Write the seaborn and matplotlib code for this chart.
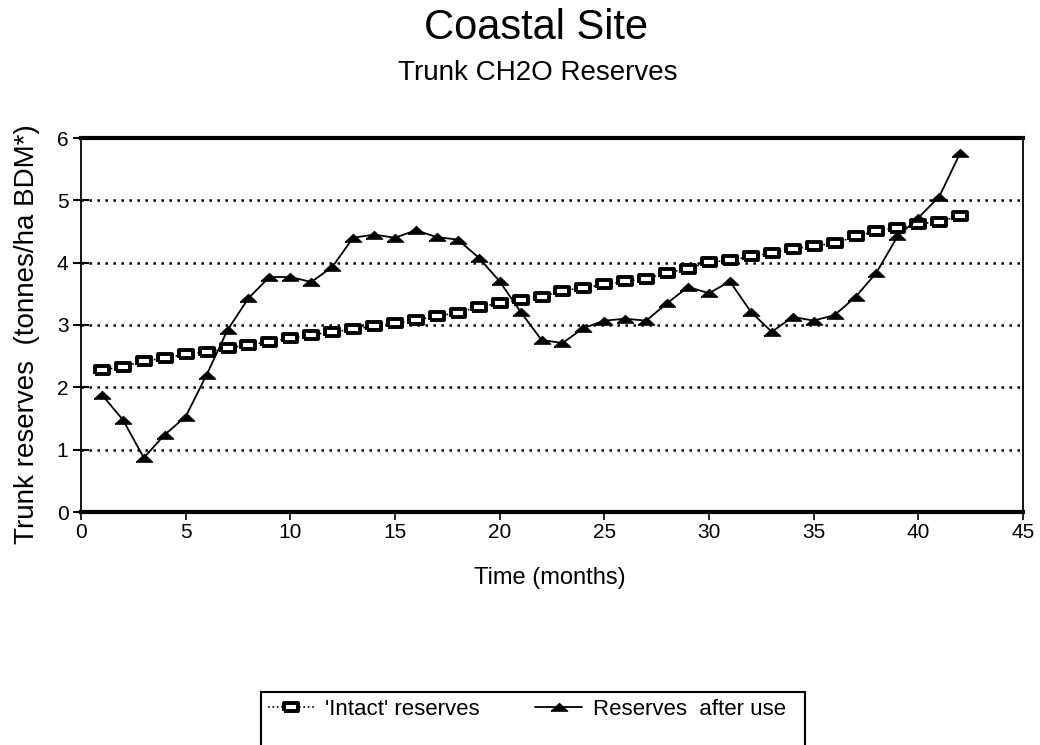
import matplotlib
matplotlib.use("Agg")
import matplotlib.pyplot as plt
from matplotlib.lines import Line2D
import seaborn as sns
import pandas as pd

months = list(range(1, 43))
intact = [2.28, 2.33, 2.42, 2.47, 2.53, 2.57, 2.63, 2.68, 2.73, 2.79,
          2.84, 2.89, 2.93, 2.98, 3.03, 3.08, 3.14, 3.20, 3.29, 3.35,
          3.40, 3.45, 3.55, 3.60, 3.65, 3.70, 3.74, 3.84, 3.90, 4.01,
          4.04, 4.10, 4.16, 4.22, 4.27, 4.31, 4.42, 4.51, 4.56, 4.62,
          4.66, 4.75]
after_use = [1.88, 1.48, 0.87, 1.24, 1.53, 2.20, 2.92, 3.43, 3.77, 3.77,
             3.69, 3.93, 4.40, 4.45, 4.40, 4.52, 4.41, 4.37, 4.08, 3.70,
             3.21, 2.76, 2.71, 2.95, 3.07, 3.10, 3.07, 3.35, 3.61, 3.51,
             3.70, 3.21, 2.89, 3.13, 3.07, 3.16, 3.45, 3.84, 4.42, 4.72,
             5.06, 5.76]
series_labels = ["'Intact' reserves", "Reserves  after use  "]
x_ticks = list(range(0, 46, 5))
y_ticks = list(range(0, 7))

df = pd.DataFrame({"month": months, "intact": intact, "after": after_use})

sns.set_style("white")
plt.rcParams["font.family"] = ["Liberation Sans", "DejaVu Sans"]
plt.rcParams["text.color"] = "black"
plt.rcParams["axes.labelcolor"] = "black"
plt.rcParams["xtick.color"] = "black"
plt.rcParams["ytick.color"] = "black"

fig = plt.figure(figsize=(10.4, 7.45), dpi=100)
ax = fig.add_axes([81 / 1040, 1 - 512 / 745, 942 / 1040, 374 / 745])

rect_marker = [(-1, -0.55), (1, -0.55), (1, 0.55), (-1, 0.55), (-1, -0.55)]
tri_marker = [(-1, -0.45), (1, -0.45), (0, 0.5), (-1, -0.45)]

sns.lineplot(data=df, x="month", y="intact", ax=ax, color="black",
             linestyle=":", linewidth=1.2, marker=rect_marker, markersize=10,
             markerfacecolor="white", markeredgecolor="black",
             markeredgewidth=2.8, label=series_labels[0], legend=False)
sns.lineplot(data=df, x="month", y="after", ax=ax, color="black",
             linestyle="-", linewidth=1.3, marker=tri_marker, markersize=12,
             markerfacecolor="black", markeredgecolor="black",
             label=series_labels[1], legend=False)

ax.set_xlim(0, 45)
ax.set_ylim(0, 6)
ax.set_xticks(x_ticks)
ax.set_yticks(y_ticks)
ax.tick_params(axis="x", direction="out", length=6, width=1.2, labelsize=15,
               pad=2, color="black", labelcolor="black", bottom=True)
ax.tick_params(axis="y", direction="inout", length=12, width=1.5, labelsize=15,
               pad=3, color="black", labelcolor="black", left=True)

ax.yaxis.grid(True, linestyle=(0, (1, 2.2)), linewidth=1.8, color="black")
ax.xaxis.grid(False)

for side, lw in {"top": 3, "bottom": 3, "left": 1.3, "right": 1.3}.items():
    ax.spines[side].set_visible(True)
    ax.spines[side].set_color("black")
    ax.spines[side].set_linewidth(lw)

ax.set_xlabel("Time (months)", fontsize=17, color="black")
ax.xaxis.set_label_coords(0.498, -0.147)
ax.xaxis.label.set_va("top")
ax.set_ylabel("Trunk reserves  (tonnes/ha BDM*)", fontsize=20, color="black")
ax.yaxis.set_label_coords(-0.0435, 0.476)

fig.text(0.515, 1 - 28 / 745, "Coastal Site", fontsize=30, ha="center",
         va="center", color="black")
fig.text(0.517, 1 - 73 / 745, "Trunk CH2O Reserves", fontsize=20, ha="center",
         va="center", color="black")

handles, labels = ax.get_legend_handles_labels()
blank = Line2D([], [], linestyle="none", marker="none")
leg = fig.legend([handles[0], blank, handles[1], blank],
                 [labels[0], " ", labels[1], " "],
                 ncol=2, loc="upper center", bbox_to_anchor=(0.5125, 0.086),
                 fontsize=16, frameon=True, fancybox=False, shadow=False,
                 edgecolor="black", framealpha=1, borderpad=0.3,
                 labelspacing=0.1, handlelength=2.1, handletextpad=0.5,
                 columnspacing=2.5, numpoints=1)
leg.get_frame().set_linewidth(1.5)
for t in leg.get_texts():
    t.set_color("black")

fig.savefig("out.png", dpi=100)
